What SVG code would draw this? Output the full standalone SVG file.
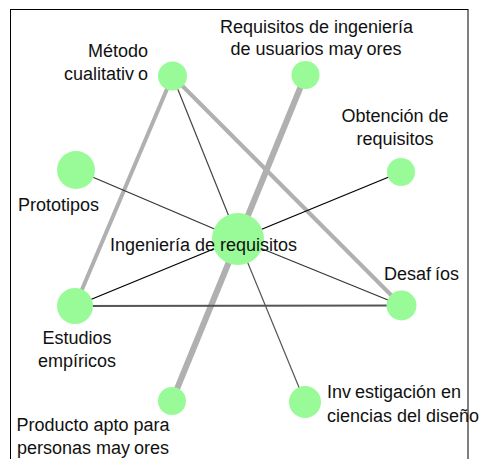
<svg xmlns="http://www.w3.org/2000/svg" width="484" height="459" viewBox="0 0 484 459">
<style>
  .lbl { font-family: "Liberation Sans", Arial, sans-serif; font-size: 18px; fill: #111; }
  .node { fill: #98FB98; }
  .thick { stroke: #b0b0b0; stroke-linecap: butt; fill: none; }
  .thin { fill: none; }
</style>
<rect x="0" y="0" width="484" height="459" fill="#ffffff"/>
<rect x="10.5" y="9.5" width="457.5" height="470" fill="none" stroke="#000" stroke-width="1"/>
<g id="connectors">
  <line class="thick" x1="172.5" y1="76" x2="75" y2="306" stroke-width="4"/>
  <line class="thick" x1="172.5" y1="76" x2="401.5" y2="305.5" stroke-width="4"/>
  <line class="thick" x1="305.5" y1="75" x2="172" y2="401" stroke-width="6"/>
  <line class="thin" x1="172.5" y1="76" x2="238" y2="239" stroke="#444" stroke-width="1.2"/>
  <line class="thin" x1="401" y1="172" x2="238" y2="239" stroke="#000" stroke-width="1.3"/>
  <line class="thin" x1="76" y1="170" x2="238" y2="239" stroke="#333" stroke-width="1.2"/>
  <line class="thin" x1="75" y1="306" x2="238" y2="239" stroke="#000" stroke-width="1.3"/>
  <line class="thin" x1="75" y1="306" x2="401.5" y2="305.5" stroke="#555" stroke-width="1.8"/>
  <line class="thin" x1="238" y1="239" x2="401.5" y2="305.5" stroke="#333" stroke-width="1.2"/>
  <line class="thin" x1="238" y1="239" x2="305" y2="402" stroke="#555" stroke-width="1.2"/>
</g>
<g id="node-metodo">
  <circle class="node" cx="172.5" cy="76" r="14.5"/>
  <text class="lbl" text-anchor="end"><tspan x="148" y="57">Método</tspan><tspan x="148" y="80">cualitativ<tspan dx="4">o</tspan></tspan></text>
</g>
<g id="node-requisitos-ingenieria">
  <circle class="node" cx="305.5" cy="75" r="14"/>
  <text class="lbl" text-anchor="middle"><tspan x="316.5" y="33">Requisitos de ingeniería</tspan><tspan x="316" y="55">de usuarios may<tspan dx="4">ores</tspan></tspan></text>
</g>
<g id="node-obtencion">
  <circle class="node" cx="401" cy="172" r="14"/>
  <text class="lbl" text-anchor="middle"><tspan x="395" y="122">Obtención de</tspan><tspan x="395" y="145">requisitos</tspan></text>
</g>
<g id="node-prototipos">
  <circle class="node" cx="76" cy="170" r="19"/>
  <text class="lbl" x="58.5" y="211" text-anchor="middle">Prototipos</text>
</g>
<g id="node-ingenieria">
  <circle class="node" cx="238" cy="239" r="26"/>
  <text class="lbl" x="110" y="251">Ingeniería de requisitos</text>
</g>
<g id="node-estudios">
  <circle class="node" cx="75" cy="306" r="18"/>
  <text class="lbl" text-anchor="middle"><tspan x="77" y="344">Estudios</tspan><tspan x="77" y="367">empíricos</tspan></text>
</g>
<g id="node-desafios">
  <circle class="node" cx="401.5" cy="305.5" r="15"/>
  <text class="lbl" x="384" y="280">Desaf<tspan dx="4">íos</tspan></text>
</g>
<g id="node-producto">
  <circle class="node" cx="172" cy="401" r="14"/>
  <text class="lbl" text-anchor="middle"><tspan x="93" y="431">Producto apto para</tspan><tspan x="93" y="454">personas may<tspan dx="4">ores</tspan></tspan></text>
</g>
<g id="node-investigacion">
  <circle class="node" cx="305" cy="402" r="16"/>
  <text class="lbl"><tspan x="327" y="398">Inv<tspan dx="4">estigación en</tspan></tspan><tspan x="327" y="422">ciencias del diseño</tspan></text>
</g>
</svg>
